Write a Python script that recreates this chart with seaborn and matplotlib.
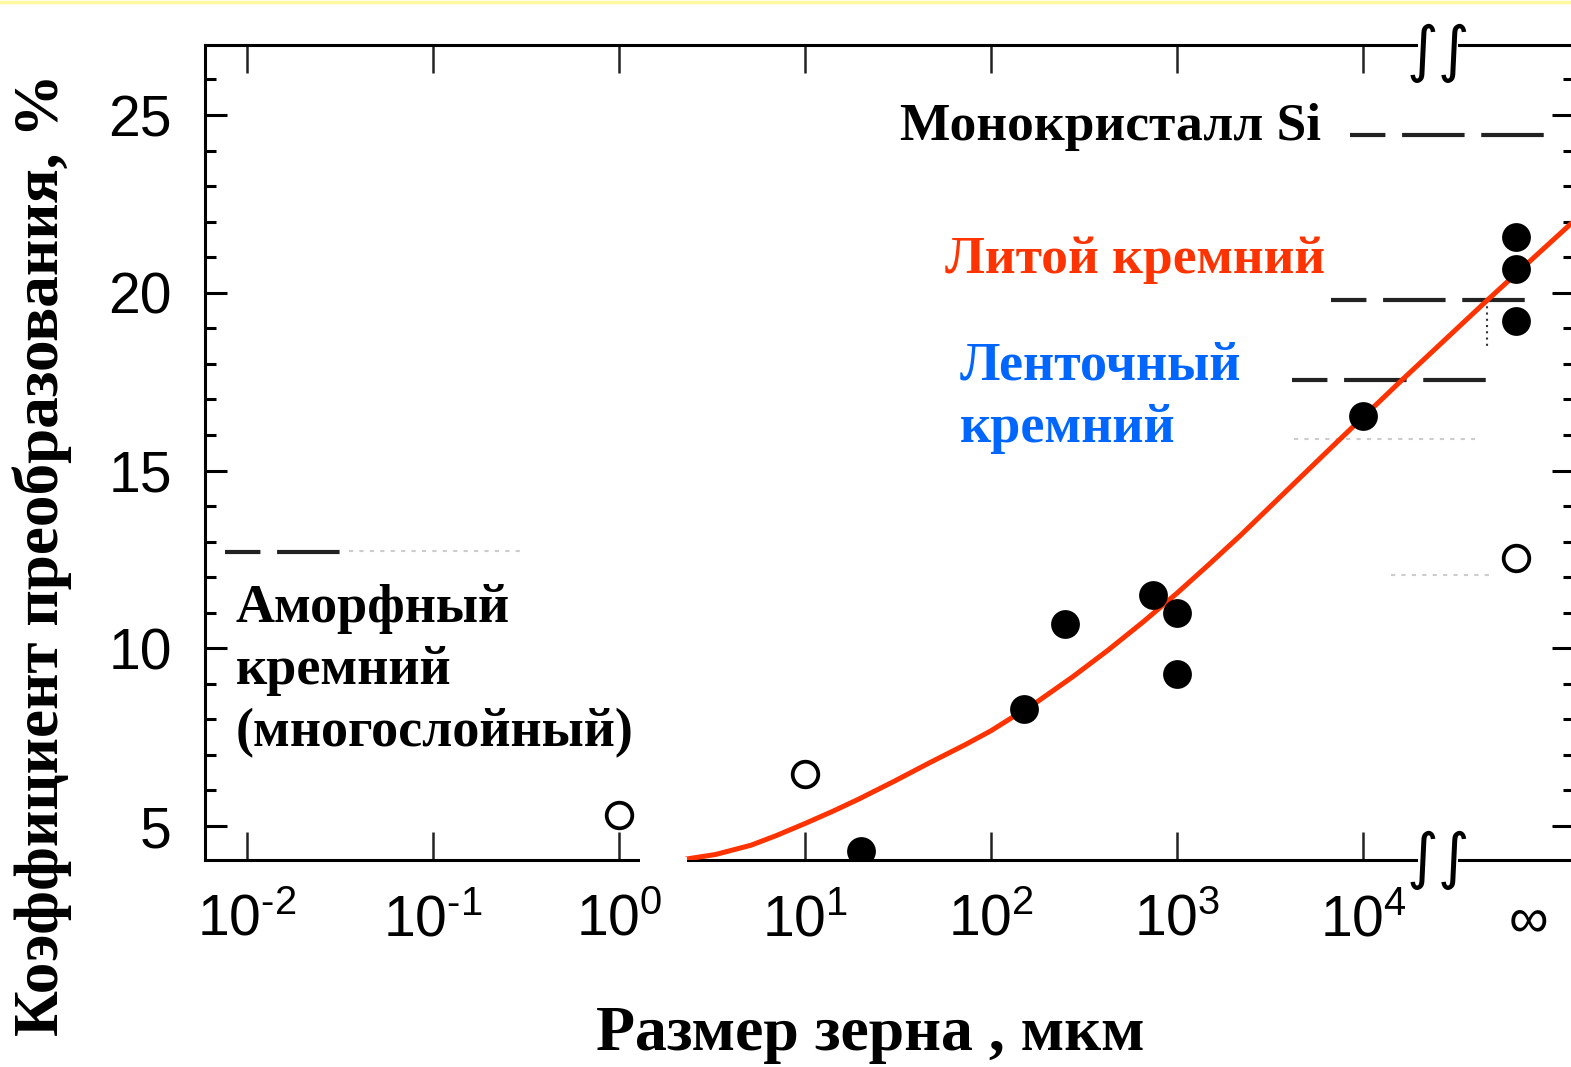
import numpy as np
import pandas as pd
import matplotlib
matplotlib.use('Agg')
import matplotlib.pyplot as plt
import seaborn as sns
from matplotlib.patches import Rectangle
from matplotlib.ticker import FixedLocator, MultipleLocator, FuncFormatter

# --- data ----------------------------------------------------------------
# grain size in um, efficiency in %
OPEN_SIZE = [1, 10]
OPEN_EFF = [5.31, 6.46]
FILLED_SIZE = [20, 150, 250, 740, 1000, 1000, 10000]
FILLED_EFF = [4.30, 8.30, 10.69, 11.51, 11.00, 9.28, 16.52]
# points at "infinite" grain size (single crystal)
INF_FILLED_EFF = [21.56, 20.66, 19.22]
INF_OPEN_EFF = [12.55]
INF_LOG = 4.82          # where the "infinity" column sits on the log axis

# red trend line, log10(size) vs efficiency
CURVE_LOG_SIZE = [0.36, 0.52, 0.71, 0.845, 1.0, 1.156, 1.29, 1.48, 1.67,
                  1.866, 2.0, 2.25, 2.44, 2.63, 2.82, 3.0, 3.17, 3.34,
                  3.84, 4.2, 4.67, 4.91, 5.13]
CURVE_EFF = [4.07, 4.20, 4.46, 4.73, 5.07, 5.43, 5.76, 6.26, 6.78,
             7.30, 7.68, 8.50, 9.20, 9.95, 10.75, 11.55, 12.35, 13.17,
             15.70, 17.50, 19.80, 20.95, 22.00]

# dashed reference levels (efficiency, log10 span)
LEVEL_EFF = [24.45, 19.8, 17.55, 12.7]
LEVEL_FROM = [3.93, 3.83, 3.62, -2.12]
LEVEL_TO = [4.98, 4.87, 4.66, -1.45]
# faint dotted levels
FAINT_EFF = [15.9, 12.05, 12.75]
FAINT_FROM = [3.63, 4.15, -1.45]
FAINT_TO = [4.60, 4.68, -0.5]

DECADES = [-2, -1, 0, 1, 2, 3, 4]

RED = '#ff3300'
BLUE = '#0066ff'

# --- style --------------------------------------------------------------
sns.set_theme(style='ticks')
plt.rcParams['font.family'] = ['Liberation Sans', 'DejaVu Sans']
plt.rcParams['mathtext.fontset'] = 'custom'
plt.rcParams['mathtext.rm'] = 'Liberation Sans'
plt.rcParams['mathtext.it'] = 'Liberation Sans'
for k in ('text.color', 'axes.labelcolor', 'xtick.color', 'ytick.color',
          'axes.edgecolor'):
    plt.rcParams[k] = 'black'
SERIF = ['Liberation Serif', 'DejaVu Serif']

W, H = 1571, 1067
fig = plt.figure(figsize=(W / 100, H / 100), dpi=100)
L, R, T, B = 205, 1574, 45, 860
ax = fig.add_axes([L / W, 1 - B / H, (R - L) / W, (B - T) / H])

# --- marks --------------------------------------------------------------
inf_x = 10 ** INF_LOG
filled = pd.DataFrame({'size': FILLED_SIZE + [inf_x] * len(INF_FILLED_EFF),
                       'eff': FILLED_EFF + INF_FILLED_EFF})
opened = pd.DataFrame({'size': OPEN_SIZE + [inf_x] * len(INF_OPEN_EFF),
                       'eff': OPEN_EFF + INF_OPEN_EFF})
curve = pd.DataFrame({'size': np.power(10.0, CURVE_LOG_SIZE), 'eff': CURVE_EFF})

for eff, a, b in zip(LEVEL_EFF, LEVEL_FROM, LEVEL_TO):
    ax.plot([10 ** a, 10 ** b], [eff, eff], color='#222222', lw=3,
            ls=(6.5, (15, 4)), zorder=2)
for eff, a, b in zip(FAINT_EFF, FAINT_FROM, FAINT_TO):
    ax.plot([10 ** a, 10 ** b], [eff, eff], color='#cccccc', lw=1.5,
            ls=(0, (2, 3)), zorder=2)
# short dotted drop under the cast-silicon level
ax.plot([10 ** 4.667, 10 ** 4.667], [LEVEL_EFF[1], 18.4], color='#333333',
        lw=1.5, ls=(0, (1, 2)), zorder=2)

sns.lineplot(data=curve, x='size', y='eff', sort=False, estimator=None,
             color=RED, lw=3.6, ax=ax, zorder=4)
sns.scatterplot(data=filled, x='size', y='eff', s=430, color='black',
                edgecolor='black', linewidth=0, ax=ax, zorder=5)
sns.scatterplot(data=opened, x='size', y='eff', s=340, facecolor='white',
                edgecolor='black', linewidth=2.7, ax=ax, zorder=5)

# --- axes ---------------------------------------------------------------
ax.set_xscale('log')
ax.set_xlim(10 ** ((L - 619) / 186), 10 ** ((R - 619) / 186))
ax.set_ylim(4.044, 26.97)
ax.xaxis.set_major_locator(FixedLocator([10.0 ** d for d in DECADES]))
ax.xaxis.set_minor_locator(FixedLocator([]))
ax.xaxis.set_major_formatter(
    FuncFormatter(lambda v, p: '$10^{%s}$'
                  % str(round(np.log10(v))).replace('-', '\u2010')))
ax.yaxis.set_major_locator(FixedLocator([5, 10, 15, 20, 25]))
ax.yaxis.set_minor_locator(MultipleLocator(1))
ax.set_xlabel('')
ax.set_ylabel('')

for s in ax.spines.values():
    s.set_linewidth(2.2)
    s.set_color('black')
ax.tick_params(axis='x', which='major', direction='in', top=True,
               length=20, width=1.8, pad=24, labelsize=41, color='#222222')
ax.tick_params(axis='y', which='major', direction='in', right=True,
               length=16, width=2.2, pad=24, labelsize=41)
ax.tick_params(axis='y', which='minor', direction='in', right=True,
               length=8, width=2.2)

# infinity label
ax.text(10 ** 4.89, -0.077, '\u221e', transform=ax.get_xaxis_transform(),
        ha='center', va='center', fontsize=40, color='black')

# axis breaks before the infinity column
for yf, dy in ((0.0, 0.0), (1.0, -0.01)):
    ax.add_patch(Rectangle(((1418 - L) / (R - L), yf - 0.006),
                           40 / (R - L), 0.012, transform=ax.transAxes,
                           facecolor='white', edgecolor='none',
                           clip_on=False, zorder=6))
    ax.text((1438 - L) / (R - L), yf + dy, '\u222b\u222b',
            transform=ax.transAxes, ha='center', va='center', fontsize=44,
            color='black', family=['DejaVu Sans'], clip_on=False, zorder=7)
# gap in the bottom spine left of the curve start
ax.add_patch(Rectangle(((640 - L) / (R - L), -0.004), 47 / (R - L), 0.008,
                       transform=ax.transAxes, facecolor='white',
                       edgecolor='none', clip_on=False, zorder=6))


# --- annotations --------------------------------------------------------
def put(px, py, txt, color='black', size=38.5):
    ax.text((px - L) / (R - L), (B - py) / (B - T), txt, transform=ax.transAxes,
            ha='left', va='baseline', fontsize=size, color=color,
            family=SERIF, fontweight='bold', zorder=8)


put(900, 140, 'Монокристалл Si')
put(945, 273, 'Литой кремний', color=RED)
put(960, 380, 'Ленточный', color=BLUE, size=39)
put(960, 442, 'кремний', color=BLUE, size=39)
put(236, 622, 'Аморфный', size=39)
put(236, 684, 'кремний', size=39)
put(236, 746, '(многослойный)', size=39)

fig.text(870 / W, 1 - 1050 / H, 'Размер зерна , мкм', ha='center',
         va='baseline', fontsize=46, fontweight='bold', family=SERIF)
fig.text(42 / W, 1 - 555 / H, 'Коэффициент преобразования, %', ha='center',
         va='center', rotation=90, fontsize=45.5, fontweight='bold',
         family=SERIF)

# thin pale strip along the top edge
fig.add_artist(plt.Line2D([0, 1], [0.9985, 0.9985], transform=fig.transFigure,
                          color='#fff9a0', lw=2.5))

fig.savefig('out.png', dpi=100)
